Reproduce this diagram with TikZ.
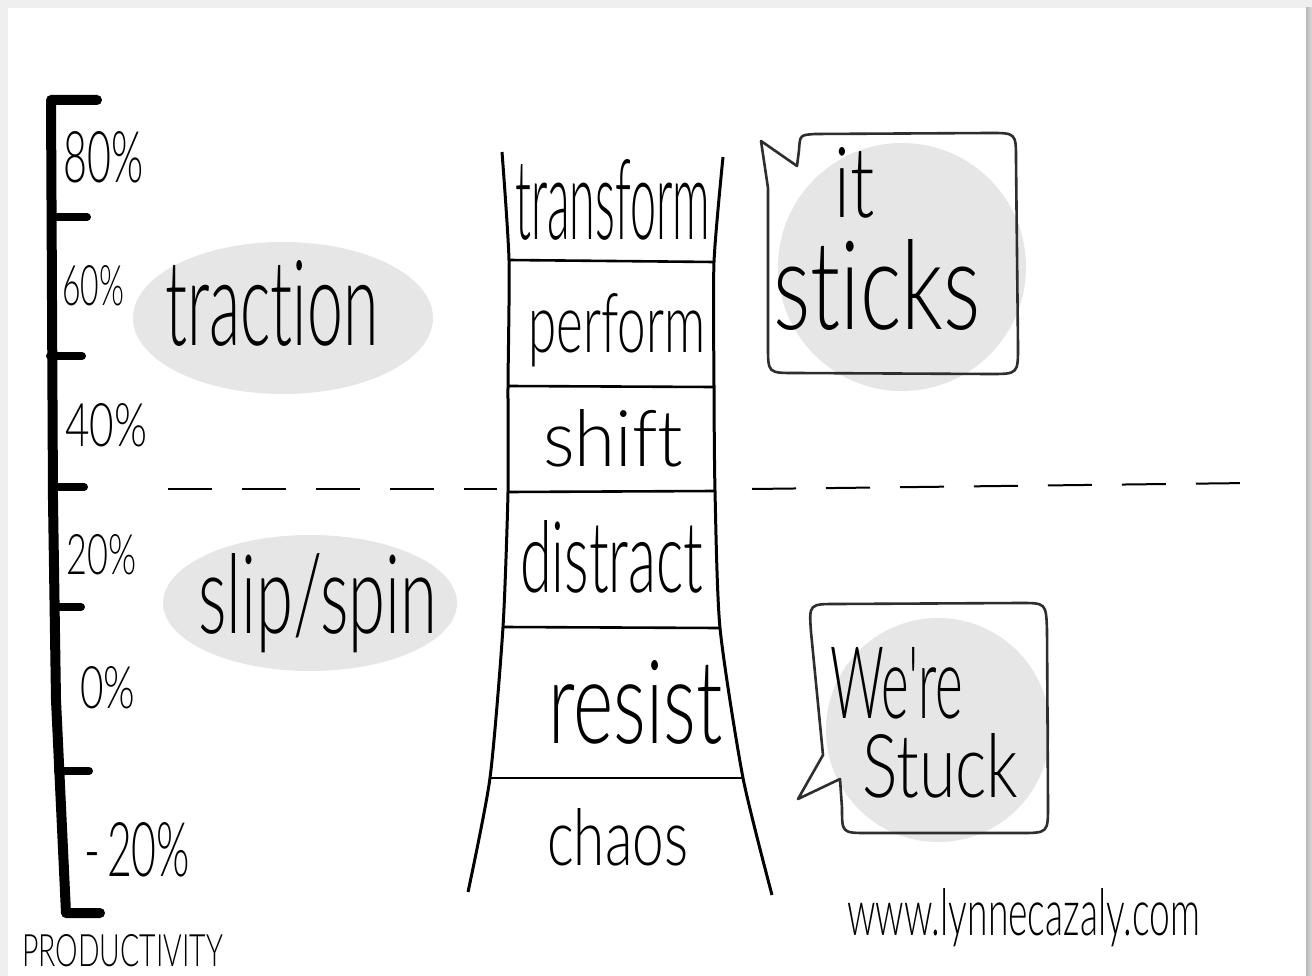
\documentclass[tikz,border=0pt]{standalone}
\usepackage{fontspec}
\usepackage{graphicx}
\newfontfamily\handfont{Lato Light}[Ligatures=NoCommon]
% scale a word to a given width and height (in px = pt)
\newcommand\handtext[3]{\resizebox{#1pt}{#2pt}{\handfont #3}}
\definecolor{blobgrey}{HTML}{E6E6E6}
\definecolor{framegrey}{HTML}{EFEFEF}
\definecolor{inkgrey}{HTML}{2E2E2E}
\tikzset{
  hand/.style={inner sep=0pt, anchor=base west, text=black},
  axisline/.style={line width=10pt, line cap=round, line join=round},
  tick/.style={line width=8pt, line cap=round},
  rail/.style={line width=3pt},
  rung/.style={line width=2.6pt},
  divider/.style={line width=2pt, dash pattern=on 44pt off 30pt},
  bubble/.style={draw=inkgrey, line width=2.6pt, line join=round},
  blob/.style={fill=blobgrey, draw=none}
}
\begin{document}
\begin{tikzpicture}[x=1pt, y=-1pt]
\useasboundingbox (0,0) rectangle (1312,976);
% page and frame
\fill[framegrey] (0,0) rectangle (1312,976);
\fill[white] (8,8) rectangle (1306,976);
\shade[left color=gray!55, right color=gray!30] (1306,8) rectangle (1312,976);

% productivity axis
\draw[axisline] (97,100) -- (51,100) -- (52,300) -- (53,500) -- (56,700) -- (66,913) -- (100,913);
\draw[tick] (51,217) -- (87,217);
\draw[tick] (50,356) -- (82,356);
\draw[tick] (52,487) -- (84,487);
\draw[tick] (54,607) -- (81,607);
\draw[tick] (58,771) -- (89,771);

\node[hand] (p80) at (63,183) {\handtext{80}{51}{80\%}};
\node[hand] (p60) at (62,306) {\handtext{62}{40}{60\%}};
\node[hand] (p40) at (65,446) {\handtext{82}{43}{40\%}};
\node[hand] (p20) at (66,574) {\handtext{70}{40}{20\%}};
\node[hand] (p0)  at (80,708) {\handtext{55}{42}{0\%}};
\node[hand] (pm20) at (84,876) {\handtext{106}{54}{-\,20\%}};
\node[hand] (prod) at (22,966) {\handtext{201}{32}{PRODUCTIVITY}};

% grey zones
\fill[blob] (283,318) ellipse [x radius=150, y radius=76];
\fill[blob] (310,603) ellipse [x radius=147, y radius=68];
\node[hand] (traction) at (165,345) {\handtext{213}{85}{traction}};
\node[hand] (slip) at (198,633) {\handtext{239}{80}{slip/spin}};

% threshold line
\draw[divider] (168,489) -- (497,489);
\draw[divider] (752,489) -- (1250,483);

% ladder rails
\coordinate (l1) at (509,260);
\coordinate (l2) at (508,386);
\coordinate (l3) at (508,492);
\coordinate (l4) at (503,627);
\coordinate (l5) at (490,778);
\coordinate (r1) at (714,262);
\coordinate (r2) at (714,387);
\coordinate (r3) at (715,491);
\coordinate (r4) at (720,628);
\coordinate (r5) at (743,778);
\draw[rail] plot[smooth, tension=0.4] coordinates {(502,152) (509,260) (508,386) (508,492) (503,627) (490,778) (468,892)};
\draw[rail] plot[smooth, tension=0.4] coordinates {(723,157) (714,262) (714,387) (715,491) (720,628) (743,778) (772,895)};
\draw[rung] (l1) -- (r1);
\draw[rung] (l2) -- (r2);
\draw[rung] (l3) -- (r3);
\draw[rung] (l4) -- (r4);
\draw[rung] (l5) -- (r5);

\node[hand] (transform) at (515,240) {\handtext{195}{80}{transform}};
\node[hand] (perform) at (528,352) {\handtext{177}{59}{perform}};
\node[hand] (shift) at (543,466) {\handtext{140}{57}{shift}};
\node[hand] (distract) at (520,592) {\handtext{183}{72}{distract}};
\node[hand] (resist) at (548,743) {\handtext{174}{83}{resist}};
\node[hand] (chaos) at (547,865) {\handtext{141}{57}{chaos}};

% speech bubble: it sticks
\fill[blob] (902,267) circle [radius=124];
\draw[bubble] (761,141) -- (797,166) -- (799,150) .. controls (800,135) .. (815,134)
  -- (990,133) .. controls (1016,133) .. (1016,160) -- (1018,346)
  .. controls (1018,374) .. (990,374) -- (795,373) .. controls (768,373) .. (768,346)
  -- (768,188) -- cycle;
\node[hand] (it) at (834,218) {\handtext{40}{70}{it}};
\node[hand] (sticks) at (773,330) {\handtext{207}{90}{sticks}};

% speech bubble: we're stuck
\fill[blob] (938,730) circle [radius=112];
\draw[bubble] (798,799) -- (823,755) -- (811,632) .. controls (809,604) .. (837,604)
  -- (1020,603) .. controls (1046,603) .. (1047,630) -- (1048,805)
  .. controls (1048,833) .. (1020,833) -- (868,833) .. controls (842,833) .. (842,808)
  -- (840,779) -- cycle;
\node[hand] (were) at (830,718) {\handtext{133}{71}{We're}};
\node[hand] (stuck) at (862,797) {\handtext{156}{64}{Stuck}};

% credit
\node[hand] (url) at (847,935) {\handtext{353}{47}{www.lynnecazaly.com}};
\end{tikzpicture}
\end{document}
